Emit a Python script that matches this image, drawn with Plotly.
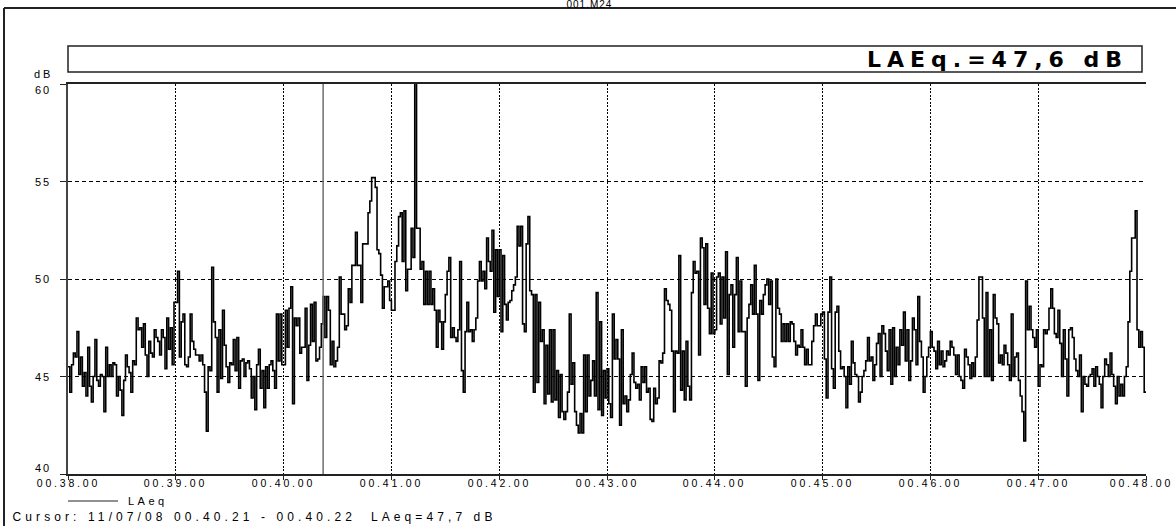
import plotly.graph_objects as go

# ---------------- data (dB, one value per second) ----------------
laeq_0038 = [45.5, 44.2, 45.6, 46.2, 46.0, 47.3, 45.1, 46.0, 44.5, 45.2,
             44.0, 46.5, 44.5, 43.7, 45.0, 46.9, 44.8, 44.5, 45.1, 45.0,
             43.2, 46.5, 45.0, 45.6, 45.0, 45.7, 45.6, 44.0, 45.0, 44.3,
             43.0, 44.8, 46.1, 45.5, 45.2, 44.2, 45.8, 45.6, 48.0, 47.4,
             47.5, 46.5, 47.7, 46.1, 45.0, 46.8, 46.2, 46.0, 47.4, 47.0,
             46.8, 46.1, 47.4, 47.0, 45.4, 48.0, 46.4, 47.5, 45.6, 48.8]
laeq_0039 = [48.8, 50.4, 46.0, 47.8, 48.2, 45.6, 45.5, 46.0, 48.2, 46.8,
             46.4, 46.1, 46.1, 45.8, 46.1, 45.6, 44.2, 42.2, 45.5, 45.3,
             50.6, 47.8, 47.0, 44.2, 47.4, 44.9, 48.4, 46.6, 45.5, 44.7,
             45.7, 45.6, 46.9, 45.3, 47.0, 44.4, 45.8, 45.9, 45.0, 45.7,
             45.8, 45.4, 43.9, 45.0, 43.3, 45.6, 46.4, 44.4, 45.3, 43.4,
             45.5, 44.4, 45.6, 45.8, 45.3, 44.4, 48.2, 45.8, 48.2, 45.6]
laeq_0040 = [45.6, 48.4, 46.5, 48.5, 49.6, 43.6, 48.0, 47.6, 48.0, 46.2,
             46.5, 46.5, 48.5, 44.8, 46.6, 48.7, 46.8, 48.8, 45.8, 45.9,
             46.5, 47.7, 49.1, 47.0, 49.1, 48.4, 45.6, 46.8, 45.5, 45.8,
             46.5, 50.1, 48.2, 48.2, 47.4, 47.6, 49.5, 48.8, 50.7, 50.7,
             52.4, 50.7, 50.7, 48.8, 51.8, 51.8, 51.8, 53.4, 54.0, 55.2,
             55.2, 54.7, 51.5, 51.3, 50.2, 48.5, 49.6, 49.6, 49.9, 48.9]
laeq_0041 = [48.4, 48.4, 50.9, 51.7, 53.2, 53.4, 50.9, 53.5, 49.4, 50.5,
             50.5, 52.6, 51.1, 62.0, 52.6, 52.6, 50.5, 50.9, 48.7, 50.4,
             48.7, 50.4, 48.7, 49.5, 48.4, 46.5, 48.4, 47.8, 46.4, 47.8,
             49.2, 50.4, 51.1, 47.0, 47.5, 47.0, 46.8, 47.4, 50.9, 45.3,
             44.2, 47.3, 48.8, 47.3, 47.4, 46.8, 47.4, 48.0, 49.9, 50.9,
             49.9, 50.4, 49.5, 52.1, 50.9, 50.4, 52.5, 48.3, 51.5, 49.1]
laeq_0042 = [51.5, 47.3, 51.2, 48.7, 47.9, 48.8, 48.9, 49.4, 49.7, 50.1,
             52.7, 51.7, 52.7, 47.7, 47.3, 51.8, 53.2, 49.4, 49.2, 44.2,
             49.2, 44.7, 48.8, 46.8, 47.4, 43.6, 46.6, 44.1, 47.4, 43.7,
             47.4, 43.8, 45.3, 42.9, 45.1, 43.2, 42.8, 43.2, 44.2, 48.2,
             44.6, 45.7, 43.2, 42.5, 42.1, 43.1, 42.1, 46.1, 43.2, 46.1,
             44.0, 44.8, 45.8, 44.0, 49.3, 43.3, 47.8, 43.0, 45.3, 43.9]
laeq_0043 = [45.4, 43.6, 42.9, 48.2, 45.9, 46.9, 45.9, 42.5, 47.4, 43.6,
             44.0, 43.2, 43.8, 45.1, 46.2, 44.7, 44.4, 44.6, 43.8, 45.5,
             44.7, 45.5, 44.2, 44.4, 42.8, 42.7, 44.4, 43.6, 43.9, 45.8,
             45.7, 46.2, 49.5, 48.9, 48.7, 48.4, 46.3, 43.2, 46.3, 46.2,
             51.2, 44.3, 46.3, 43.8, 46.8, 44.5, 43.8, 49.3, 50.9, 50.3,
             50.4, 46.1, 52.1, 51.6, 48.7, 51.8, 48.5, 47.2, 50.3, 47.2]
laeq_0044 = [47.4, 50.1, 50.3, 47.7, 50.1, 48.0, 51.4, 45.1, 49.2, 49.7,
             46.5, 49.2, 51.1, 47.3, 49.9, 47.3, 47.3, 44.5, 48.0, 48.7,
             49.7, 48.2, 50.7, 48.2, 44.8, 48.9, 48.2, 49.2, 49.7, 50.0,
             48.7, 49.9, 46.0, 45.5, 50.0, 48.5, 48.2, 46.8, 47.7, 46.8,
             47.7, 46.8, 47.8, 47.7, 46.8, 46.1, 46.6, 46.5, 47.4, 46.5,
             45.6, 46.4, 45.6, 45.6, 46.8, 47.6, 48.2, 47.6, 47.6, 48.2]
laeq_0045 = [48.3, 45.9, 43.9, 48.3, 50.1, 45.4, 44.4, 48.3, 48.6, 46.3,
             45.4, 45.5, 45.0, 43.4, 45.5, 44.6, 46.8, 45.7, 45.1, 45.0,
             43.7, 44.2, 45.0, 45.3, 45.8, 47.0, 45.8, 46.0, 44.8, 45.6,
             46.7, 47.2, 45.0, 47.6, 47.2, 46.3, 45.3, 47.4, 44.6, 47.5,
             45.0, 46.5, 45.6, 47.4, 46.6, 48.3, 45.8, 47.4, 44.8, 45.8,
             48.0, 47.4, 45.6, 49.1, 46.8, 46.0, 44.2, 45.0, 46.0, 46.5]
laeq_0046 = [47.3, 46.5, 46.3, 45.4, 46.8, 45.6, 46.3, 45.5, 45.8, 46.3,
             46.1, 46.8, 46.5, 46.1, 45.1, 46.1, 45.0, 44.8, 44.4, 46.4,
             46.0, 45.6, 44.9, 45.7, 45.0, 46.0, 47.9, 50.1, 50.1, 48.0,
             45.0, 49.3, 45.0, 47.4, 44.8, 49.2, 48.0, 47.7, 45.7, 46.1,
             45.6, 46.6, 46.2, 45.6, 44.8, 48.2, 45.0, 46.0, 46.2, 44.8,
             44.0, 43.2, 41.7, 49.9, 47.4, 48.6, 47.4, 47.0, 46.5, 47.4]
laeq_0047 = [44.5, 45.6, 45.5, 47.4, 47.2, 47.4, 48.5, 49.5, 48.5, 47.2,
             47.0, 48.4, 46.7, 45.0, 47.4, 45.9, 44.0, 47.4, 47.5, 47.0,
             45.9, 45.3, 45.0, 46.1, 43.2, 45.0, 44.6, 44.5, 45.0, 45.1,
             45.4, 44.5, 45.5, 45.0, 44.6, 43.4, 45.0, 45.9, 45.6, 45.0,
             46.2, 45.1, 44.5, 43.6, 45.0, 44.0, 44.6, 44.0, 45.0, 45.5,
             47.8, 50.4, 52.1, 52.1, 53.5, 47.4, 46.5, 47.3, 46.5, 44.2]

x_tick_seconds = [0, 60, 120, 180, 240, 300, 360, 420, 480, 540, 600]
x_tick_labels = ["00.38.00", "00.39.00", "00.40.00", "00.41.00", "00.42.00", "00.43.00",
                 "00.44.00", "00.45.00", "00.46.00", "00.47.00", "00.48.00"]
y_tick_values = [40, 45, 50, 55, 60]
y_tick_labels = ["40", "45", "50", "55", "60"]

file_title = "001.M24"
unit_label = "dB"
total_label = "LAEq.=47,6 dB"
series_name = "LAeq"
cursor_label = "Cursor: 11/07/08 00.40.21 - 00.40.22  LAeq=47,7 dB"
cursor_second = 142   # 00.40.22 counted from 00.38.00

# ---------------- build ----------------
minutes = [laeq_0038, laeq_0039, laeq_0040, laeq_0041, laeq_0042,
           laeq_0043, laeq_0044, laeq_0045, laeq_0046, laeq_0047]
values = [v for m in minutes for v in m]
xs = list(range(len(values) + 1))
ys = values + [values[-1]]

W, H = 1176, 526
L, R, T, B = 68, 30, 84, 52
PW, PH = W - L - R, H - T - B


def pxx(x):
    return (x - L) / PW


def pxy(y):
    return (H - B - y) / PH


fig = go.Figure()
fig.add_trace(go.Scatter(x=xs, y=ys, mode="lines", name=series_name,
                         line=dict(color="#000000", width=1.6, shape="hv"),
                         hoverinfo="skip"))

frame = dict(color="#222222", width=2)
shapes = [
    dict(type="line", xref="paper", yref="paper", x0=pxx(4), x1=pxx(W), y0=pxy(8), y1=pxy(8), line=frame),
    dict(type="line", xref="paper", yref="paper", x0=pxx(4), x1=pxx(4), y0=pxy(H), y1=pxy(8), line=frame),
    dict(type="rect", xref="paper", yref="paper", x0=pxx(68), x1=pxx(1142), y0=pxy(72), y1=pxy(46),
         line=dict(color="#222222", width=1.5), fillcolor="white"),
    dict(type="line", xref="paper", yref="paper", x0=pxx(68), x1=pxx(118), y0=pxy(501), y1=pxy(501),
         line=dict(color="#222222", width=1)),
    dict(type="line", xref="x", yref="paper", x0=cursor_second, x1=cursor_second, y0=0, y1=1,
         line=dict(color="#6e6e6e", width=1.5), layer="above"),
]

font_family = "Liberation Sans, Arial, sans-serif"
annotations = []
spacings = []


def add_text(text, size, spacing, **kw):
    font = dict(size=size, family=kw.pop("family", font_family), color="black")
    if "weight" in kw:
        font["weight"] = kw.pop("weight")
    a = dict(text=text, font=font, showarrow=False, xanchor="center", yanchor="middle")
    a.update(kw)
    a.setdefault("xref", "paper")
    a.setdefault("yref", "paper")
    annotations.append(a)
    spacings.append(spacing)


add_text(file_title, 10, 1, x=pxx(589), y=pxy(4))
add_text(unit_label, 11, 3, x=pxx(43), y=pxy(74))
add_text(total_label, 22, 6, x=pxx(997), y=pxy(59), family="DejaVu Sans, sans-serif", weight="bold")
add_text(series_name, 11, 3.5, x=pxx(148), y=pxy(501))
add_text(cursor_label, 12, 4.1, x=pxx(254), y=pxy(517))

# x tick labels (kept inside the window at the right end)
for sec, lab in zip(x_tick_seconds, x_tick_labels):
    add_text(lab, 10.5, 2.8, x=sec, xref="x", y=pxy(483),
             xshift=-5 if sec == max(x_tick_seconds) else 0)

# y tick labels (end labels sit inside the axis span, as in the original)
for val, lab in zip(y_tick_values, y_tick_labels):
    shift = -6 if val == max(y_tick_values) else (6 if val == min(y_tick_values) else 0)
    add_text(lab, 11, 2, x=pxx(43), y=val, yref="y", yshift=shift)

fig.update_layout(
    width=W, height=H,
    margin=dict(l=L, r=R, t=T, b=B, pad=0),
    paper_bgcolor="white", plot_bgcolor="white",
    showlegend=False,
    font=dict(family=font_family, size=11, color="black"),
    shapes=shapes, annotations=annotations,
    xaxis=dict(range=[0, 600], tickmode="array", tickvals=x_tick_seconds, showticklabels=False,
               ticks="outside", ticklen=4, tickwidth=1, tickcolor="#222222",
               showline=True, linecolor="#222222", linewidth=1.5, mirror=True,
               showgrid=True, gridcolor="black", gridwidth=1, griddash="2px,1.5px",
               zeroline=False, automargin=False),
    yaxis=dict(range=[40, 60], tickmode="array", tickvals=y_tick_values, showticklabels=False,
               ticks="outside", ticklen=6, tickwidth=1, tickcolor="#222222",
               showline=True, linecolor="#444444", linewidth=2,
               showgrid=True, gridcolor="black", gridwidth=1, griddash="4px,3px",
               zeroline=False, automargin=False),
)

css = "".join(".annotation[data-index='%d'] text{letter-spacing:%spx}" % (i, s)
              for i, s in enumerate(spacings))
post = ("var s=document.createElement('style');s.textContent=\"" + css + "\";"
        "document.head.appendChild(s);")

fig.write_html("out.html", post_script=post)
